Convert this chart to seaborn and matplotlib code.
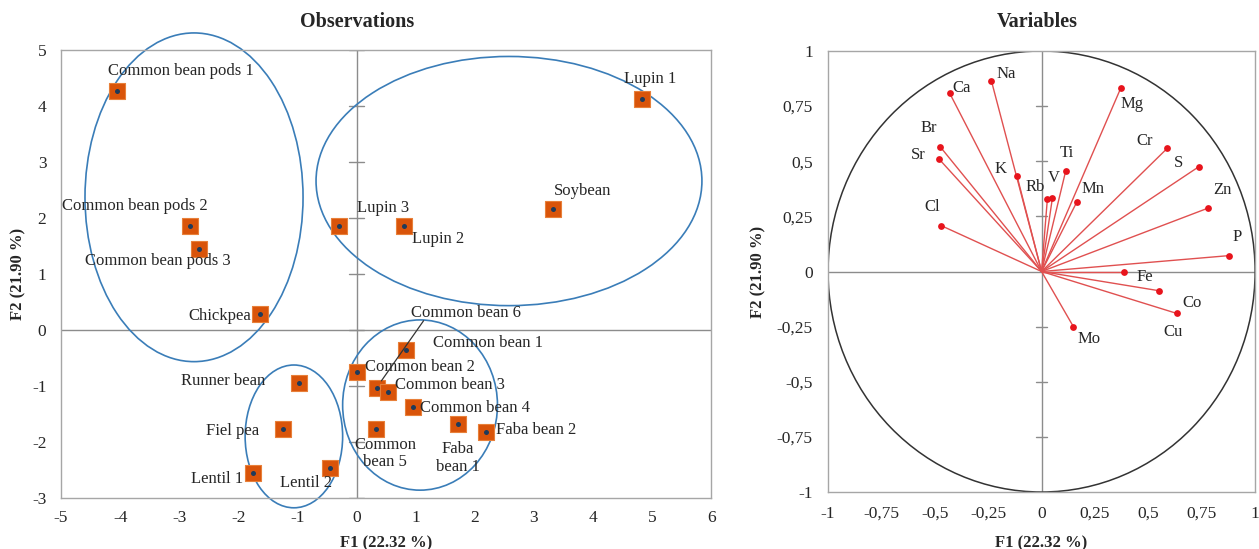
import seaborn as sns
import pandas as pd
import matplotlib.pyplot as plt
from matplotlib.patches import Ellipse, Circle

# observations (F1, F2)
obs_names = ["Common bean pods 1", "Common bean pods 2", "Common bean pods 3", "Lupin 3", "Lupin 2",
             "Soybean", "Lupin 1", "Chickpea", "Runner bean", "Fiel pea", "Lentil 1", "Lentil 2",
             "Common bean 2", "Common bean 1", "Common bean 6", "Common bean 3", "Common bean 4",
             "Common bean 5", "Faba bean 1", "Faba bean 2"]
obs_f1 = [-4.06, -2.81, -2.67, -0.30, 0.81, 3.33, 4.83, -1.63, -0.98, -1.24, -1.75, -0.45,
          0.00, 0.83, 0.34, 0.54, 0.95, 0.33, 1.72, 2.19]
obs_f2 = [4.27, 1.85, 1.44, 1.85, 1.85, 2.16, 4.13, 0.29, -0.95, -1.77, -2.55, -2.46,
          -0.75, -0.35, -1.03, -1.11, -1.37, -1.77, -1.68, -1.82]
obs_labels = ["Common bean pods 1", "Common bean pods 2", "Common bean pods 3", "Lupin 3", "Lupin 2",
              "Soybean", "Lupin 1", "Chickpea", "Runner bean", "Fiel pea", "Lentil 1", "Lentil 2",
              "Common bean 2", "Common bean 1", "Common bean 6", "Common bean 3", "Common bean 4",
              "Common\nbean 5", "Faba\nbean 1", "Faba bean 2"]
# label offsets in pixels (dx, dy)
obs_off = [(64, 20), (-56, 20), (-41, -12), (44, 18), (34, -13), (29, 18), (8, 20), (-40, -2),
           (-75, 2), (-51, -2), (-36, -6), (-24, -15), (63, 5), (82, 7), (89, 75), (62, 7),
           (62, -1), (9, -24), (0, -34), (50, 2)]

# group ellipses (center x, center y, width, height)
ell_cx = [-2.75, 2.58, 1.075, -1.06]
ell_cy = [2.37, 2.66, -1.34, -1.90]
ell_w = [3.69, 6.53, 2.62, 1.65]
ell_h = [5.87, 4.45, 3.04, 2.55]

# variables (F1, F2)
var_names = ["Ca", "Na", "Br", "Sr", "Cl", "K", "Rb", "V", "Ti", "Mn", "Mg", "Cr", "S", "Zn", "P",
             "Fe", "Co", "Cu", "Mo"]
var_f1 = [-0.43, -0.235, -0.475, -0.48, -0.47, -0.115, 0.027, 0.051, 0.113, 0.166, 0.371, 0.589,
          0.736, 0.781, 0.877, 0.388, 0.549, 0.633, 0.149]
var_f2 = [0.808, 0.865, 0.566, 0.51, 0.208, 0.433, 0.327, 0.335, 0.456, 0.317, 0.832, 0.559,
          0.475, 0.288, 0.072, 0.0, -0.087, -0.19, -0.25]
var_off = [(12, 5), (15, 7), (-11, 19), (-21, 4), (-9, 19), (-16, 7), (-12, 12), (1, 20), (1, 18),
           (16, 13), (11, -16), (-23, 7), (-20, 4), (14, 18), (8, 19), (20, -5), (33, -12),
           (-4, -19), (16, -12)]

obs = pd.DataFrame({"name": obs_names, "F1": obs_f1, "F2": obs_f2})
var = pd.DataFrame({"name": var_names, "F1": var_f1, "F2": var_f2})

sns.set_style("white")
plt.rcParams["font.family"] = ["Liberation Serif", "DejaVu Serif"]
plt.rcParams["font.size"] = 12
plt.rcParams["axes.unicode_minus"] = False

fig = plt.figure(figsize=(12.59, 5.49), dpi=100)
ax1 = fig.add_axes([0.0485, 0.0929, 0.5163, 0.816])
ax2 = fig.add_axes([0.6577, 0.1038, 0.3392, 0.8033])

grey = "#a6a6a6"
axis_grey = "#8c8c8c"

# ---------- Observations ----------
ax1.set_xlim(-5, 6)
ax1.set_ylim(-3, 5)
ax1.axhline(0, color=axis_grey, lw=1, zorder=1)
ax1.axvline(0, color=axis_grey, lw=1, zorder=1)
for yv in range(-3, 6):
    ax1.plot([-0.13, 0.13], [yv, yv], color=axis_grey, lw=1, zorder=1)

for cx, cy, w, h in zip(ell_cx, ell_cy, ell_w, ell_h):
    ax1.add_patch(Ellipse((cx, cy), w, h, fill=False, edgecolor="#3a7db8", lw=1.2,
                          clip_on=False, zorder=2))

sns.scatterplot(data=obs, x="F1", y="F2", marker="s", s=120, color="#d9540a",
                edgecolor="#e8803a", linewidth=0.8, ax=ax1, zorder=3)
sns.scatterplot(data=obs, x="F1", y="F2", marker="o", s=13, color="#1f3a5a",
                linewidth=0, ax=ax1, zorder=4)

for lab, x, y, (dx, dy) in zip(obs_labels, obs_f1, obs_f2, obs_off):
    ax1.annotate(lab, (x, y), xytext=(dx, dy), textcoords="offset pixels",
                 ha="center", va="center", fontsize=12, linespacing=1.1, zorder=5)
# leader line for Common bean 6
i6 = obs_names.index("Common bean 6")
ax1.annotate("", (obs_f1[i6], obs_f2[i6]), xytext=(47, 67), textcoords="offset pixels",
             arrowprops=dict(arrowstyle="-", color="#333333", lw=0.9, shrinkA=0, shrinkB=6))

ax1.set_xticks(range(-5, 7))
ax1.set_yticks(range(-3, 6))
ax1.tick_params(axis="x", length=0, pad=8.5, labelsize=12.5)
ax1.tick_params(axis="y", length=0, pad=10.5, labelsize=12.5)
ax1.set_xlabel("F1 (22.32 %)", fontweight="bold", fontsize=12)
ax1.set_ylabel("F2 (21.90 %)", fontweight="bold", fontsize=12)
ax1.xaxis.set_label_coords(0.5, -0.083)
ax1.yaxis.set_label_coords(-0.053, 0.5)
for sp in ax1.spines.values():
    sp.set_color(grey)
    sp.set_linewidth(1)
fig.text(357 / 1259, 1 - 22 / 549, "Observations", ha="center", va="center",
         fontsize=14.5, fontweight="bold")

# ---------- Variables ----------
ax2.set_xlim(-1, 1)
ax2.set_ylim(-1, 1)
ax2.axhline(0, color=axis_grey, lw=1, zorder=1)
ax2.axvline(0, color=axis_grey, lw=1, zorder=1)
for yv in [-0.75, -0.5, -0.25, 0.25, 0.5, 0.75]:
    ax2.plot([-0.025, 0.025], [yv, yv], color=axis_grey, lw=1, zorder=1)
ax2.add_patch(Circle((0, 0), 1, fill=False, edgecolor="#333333", lw=1.1, zorder=2))

for x, y in zip(var_f1, var_f2):
    ax2.plot([0, x], [0, y], color="#e05050", lw=1, zorder=3)
sns.scatterplot(data=var, x="F1", y="F2", marker="o", s=24, color="#e8141c",
                linewidth=0, ax=ax2, zorder=4)
for lab, x, y, (dx, dy) in zip(var_names, var_f1, var_f2, var_off):
    ax2.annotate(lab, (x, y), xytext=(dx, dy), textcoords="offset pixels",
                 ha="center", va="center", fontsize=12, zorder=5)

ticks = [-1, -0.75, -0.5, -0.25, 0, 0.25, 0.5, 0.75, 1]
tick_labels = ["-1", "-0,75", "-0,5", "-0,25", "0", "0,25", "0,5", "0,75", "1"]
ax2.set_xticks(ticks)
ax2.set_xticklabels(tick_labels)
ax2.set_yticks(ticks)
ax2.set_yticklabels(tick_labels)
ax2.tick_params(axis="x", length=0, pad=10, labelsize=12.5)
ax2.tick_params(axis="y", length=0, pad=11, labelsize=12.5)
ax2.set_xlabel("F1 (22.32 %)", fontweight="bold", fontsize=12)
ax2.set_ylabel("F2 (21.90 %)", fontweight="bold", fontsize=12)
ax2.xaxis.set_label_coords(0.5, -0.098)
ax2.yaxis.set_label_coords(-0.144, 0.5)
for sp in ax2.spines.values():
    sp.set_color(grey)
    sp.set_linewidth(1)
fig.text(1037 / 1259, 1 - 22 / 549, "Variables", ha="center", va="center",
         fontsize=14.5, fontweight="bold")

plt.savefig("out.png", dpi=100)
plt.close()
